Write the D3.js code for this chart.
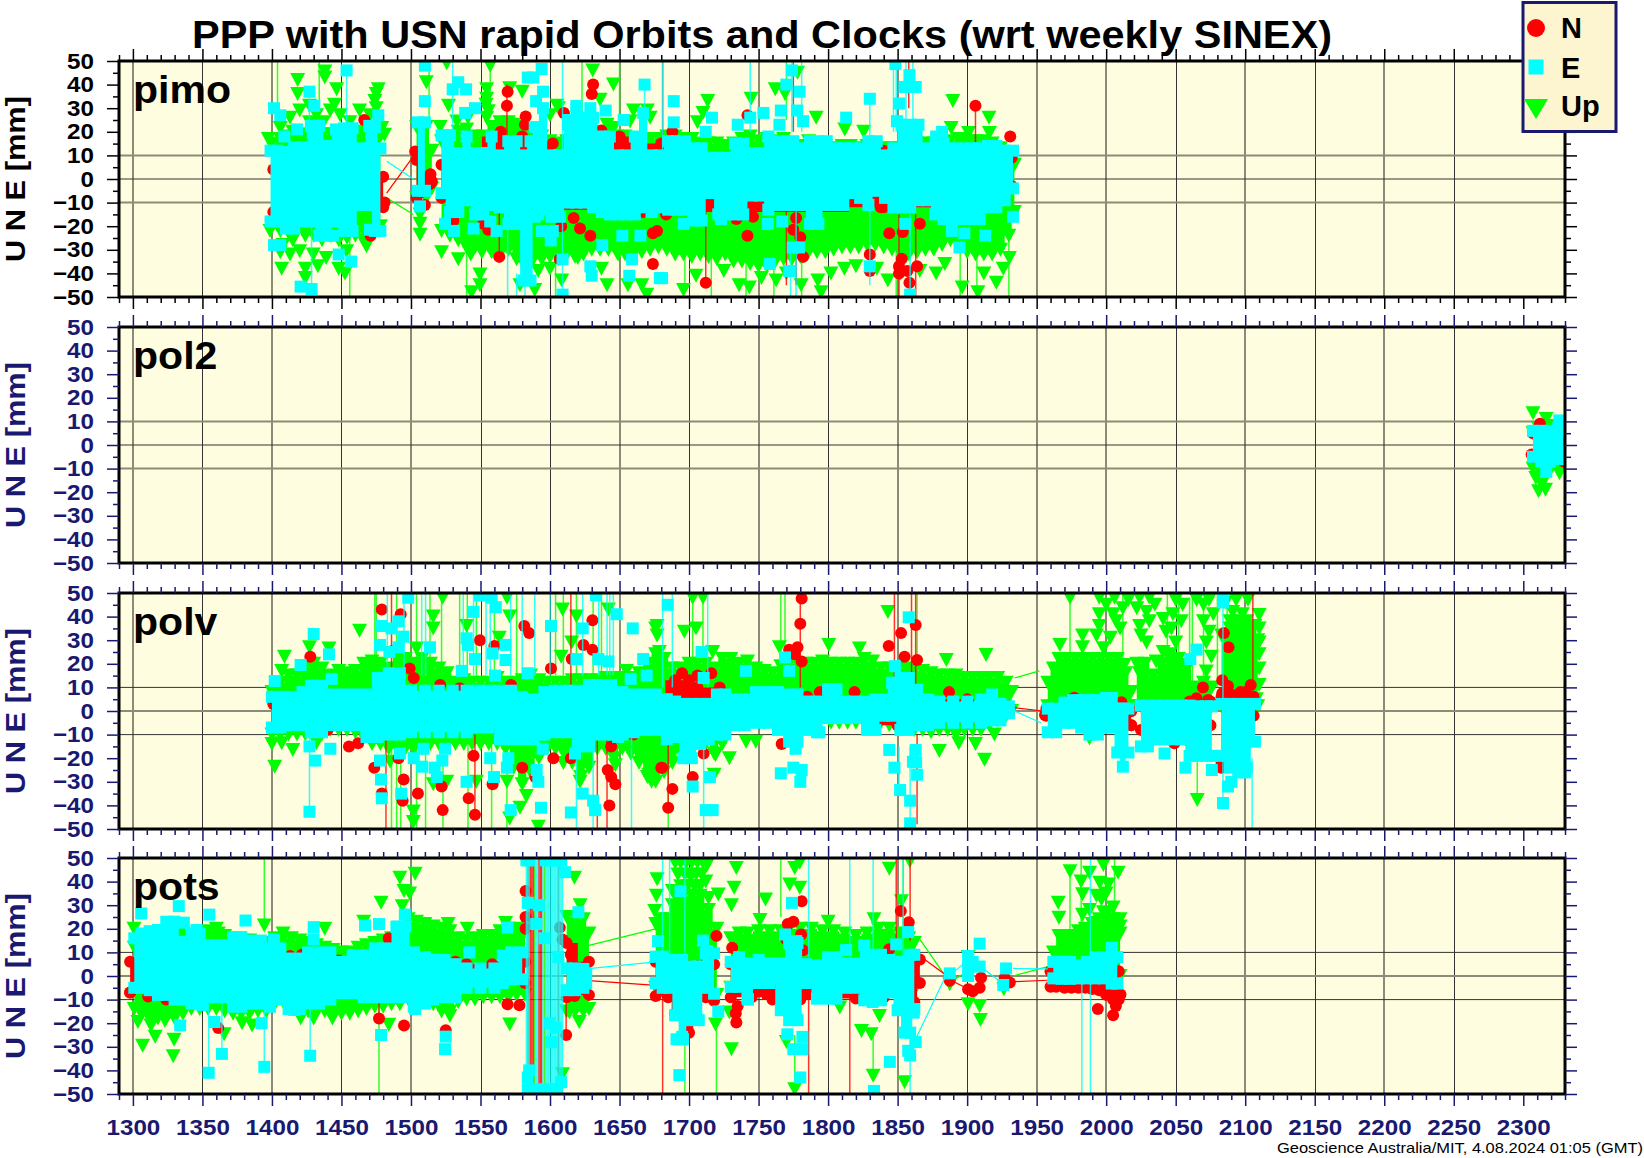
<!DOCTYPE html>
<html><head><meta charset="utf-8">
<script src="https://d3js.org/d3.v7.min.js"></script>
<style>html,body{margin:0;background:#fff}svg{display:block}text{font-family:"Liberation Sans",Arial,sans-serif}</style>
</head><body><svg id="c" width="1644" height="1158"></svg>
<script>
// ---------- labels / ticks ----------
const titleText="PPP with USN rapid Orbits and Clocks (wrt weekly SINEX)";
const footerText="Geoscience Australia/MIT, 4.08.2024 01:05 (GMT)";
const stations=["pimo","pol2","polv","pots"];
const xTickLabels=[1300,1350,1400,1450,1500,1550,1600,1650,1700,1750,1800,1850,1900,1950,2000,2050,2100,2150,2200,2250,2300];
const xGridDays=[1300,1350,1400,1450,1500,1550,1600,1650,1700,1750,1800,1850,1900,1950,2000,2050,2100,2150,2200,2250];
const xGridHeavy=[1300,1400,1500,1650,1750,1850,1950,2000,2100,2200];
const yTickLabels=[50,40,30,20,10,0,-10,-20,-30,-40,-50];
const yGridVals=[10,0,-10];
const yGridHeavy={pimo:[10,-10],pol2:[10,-10],polv:[0],pots:[0]};
const legendNames=["N","E","Up"];

// ---------- pimo ---------- bands are [day, top reading, bottom reading] of the dense cloud
const pimo_U_bands=[
[[1400,15,-20],[1406,17,-22],[1412,18,-23],[1418,18,-22],[1424,19,-24],[1430,18,-24],[1436,19,-26],[1442,19,-24],[1448,18,-26],[1454,19,-25],[1460,17,-24],[1466,17,-22],[1472,18,-22],[1478,18,-20]],
[[1504,22,-8],[1511,22,-8],[1515,12,-4]],
[[1522,16,-22],[1528,18,-24],[1534,20,-26],[1540,21,-29],[1546,18,-29],[1552,18,-28],[1558,22,-31],[1564,22,-32],[1570,24,-30],[1576,22,-34],[1582,19,-37],[1588,18,-34],[1594,18,-34],[1600,16,-33],[1606,15,-34],[1612,16,-32],[1618,18,-33],[1624,20,-32],[1630,20,-30],[1636,19,-30],[1642,20,-30],[1648,18,-31],[1654,18,-32],[1660,17,-32],[1666,17,-31],[1672,17,-30],[1678,17,-29],[1684,18,-30],[1690,18,-32],[1696,17,-32],[1702,17,-33],[1708,15,-32],[1714,15,-33],[1720,15,-34],[1726,14,-32],[1732,15,-35],[1738,17,-35],[1744,18,-36],[1750,16,-37],[1756,17,-37],[1762,16,-35],[1768,17,-34],[1774,15,-34],[1780,14,-33],[1786,16,-31],[1792,15,-31],[1798,14,-31],[1804,13,-30],[1810,14,-29],[1816,14,-29],[1822,13,-29],[1828,14,-28],[1834,13,-28],[1840,13,-29],[1846,13,-30],[1852,13,-31],[1858,14,-32],[1864,15,-31],[1870,15,-30],[1876,15,-30],[1882,15,-28],[1888,16,-26],[1894,17,-28],[1900,16,-31],[1906,16,-32],[1912,16,-32],[1918,15,-32],[1924,13,-30],[1930,11,-24],[1934,6,-14]]];
const pimo_U_pts=[[1418.5,42],[1418.5,36],[1438,45.6],[1438,43],[1446.5,38],[1476.5,38],[1475,36],[1474,33],[1463,29],[1420,29],[1427,31],[1407,-38],[1424,-42],[1424,-38],[1413,-32],[1433,-37],[1452.5,-40],[1448,-38],[1468,-28.5],[1406,-31],[1413,26],[1432,27],[1442,29],[1449,27],[1456,24],[1397.4,17],[1406,21.6],[1415,20],[1427,24],[1437,24],[1445,31.5],[1463,20],[1470.5,27],[1479,21.6],[1475,30],[1481,18.8],[1398.6,-22],[1408,-28],[1420,-30.6],[1429.7,-32],[1439,-33.5],[1453.7,-30.6],[1461,-22],[1465.7,-26],[1475,-20.8],[1415,-26],[1511,41],[1506.5,-15],[1506.5,-23.6],[1506.5,-19],[1557,48],[1525.7,49],[1630.7,46],[1645.6,40],[1636,33.6],[1554.4,38],[1580,37],[1571,38.5],[1527,31],[1554,31.5],[1660,29],[1670,29],[1605,31],[1521,22],[1533,24.4],[1541,26],[1554.4,26],[1564,24],[1573.6,23],[1600,27],[1606,30],[1641,23],[1645.6,21.6],[1657.6,24.4],[1672,26],[1554.4,34],[1555.6,28.7],[1543.6,-48],[1549.6,-45],[1549.6,-40.5],[1551,-31],[1534,-34],[1543,-32],[1522,-31],[1589,-47],[1578.4,-45],[1591.5,-39],[1608.4,-43],[1600,-38],[1641,-45],[1637,-38],[1656,-45],[1666,-45],[1669.6,-49],[1620,-33.5],[1649,-32],[1713.4,33],[1710,28],[1706,24],[1744.6,34],[1762,38],[1769,36],[1778,45],[1791.4,26],[1812,21],[1825.6,20],[1889.7,33],[1888.5,21.6],[1901,19.5],[1915.7,26],[1916,19.5],[1696,-47],[1795,-48],[1896.4,-46],[1907.7,-48],[1921,-44],[1930.4,-33.5],[1877.7,-40],[1843,-43],[1762.6,-43],[1743.4,-46],[1736,-45],[1811.7,-38],[1792.6,-43],[1780.6,-45],[1705,-41],[1725,-39],[1752,-42],[1770,-40],[1802,-40],[1820,-37],[1835,-38],[1852,-40],[1866,-39],[1884,-36],[1912,-40],[1926,-38]];
const pimo_U_bars=[[1404,50,24],[1434,50,28],[1456,-20,-50],[1513,50,25],[1540,-30,-50],[1557,50,30],[1604,-30,-50],[1623,50,25],[1650,50,15],[1697,-30,-48],[1716,-25,-50],[1741,-25,-50],[1761,-25,-50],[1770,50,25],[1781,-25,-50],[1849,-25,-50],[1895,-25,-50],[1907,-25,-50],[1930,-25,-50]];
const pimo_U_links=[[1482.5,-8,1501.7,-15]];
const pimo_N_bands=[[[1401,4,-14],[1440,8,-18],[1480,1,-12]],[[1504,8,-8],[1514,2,-2]],[[1522,6,-8],[1580,18,-13],[1598,12,-13],[1650,18,-13],[1680,15,-12],[1740,11,-14],[1790,12,-14],[1840,12,-12],[1932,9,-3]]];
const pimo_N_pts=[[1466.4,25],[1471,-24],[1412,-17],[1481,-10],[1510,-11],[1503,11.7],[1515,-1],[1569.5,37],[1569,31],[1564.5,20],[1563.5,-33],[1582.5,26.5],[1582,23],[1631,40],[1630,36],[1610,28],[1602,15],[1552,-19],[1555.6,-21.5],[1608,-20],[1617,-16.5],[1621.6,-21],[1629,-24],[1674,-23],[1674,-36],[1607,-34],[1667,-14],[1637,20.5],[1530.5,-17.6],[1683.5,-15],[1677,-22],[1688,20],[1712,-44],[1742,27],[1734,-17],[1746,-16],[1742,-24],[1777,-16.5],[1775,-21.5],[1780,-24.7],[1782,-33],[1830,-32],[1830,-39],[1838,-12],[1844,-23],[1853.7,-22.5],[1853,-33.8],[1851,-37],[1851,-40],[1857,-39],[1858.5,-44],[1864,-37],[1866,-19],[1906,31],[1931,18],[1821,-7],[1901.7,9],[1808,11]];
const pimo_N_bars=[[1569,40,15],[1563.5,-10,-33],[1681,50,15],[1712,-10,-44],[1775,50,20],[1777,-10,-45],[1851,-15,-50],[1858,50,30],[1863,-15,-50],[1906,31,10],[1770,-10,-45]];
const pimo_N_links=[[1482.5,-6,1501.7,9.6]];
const pimo_E_bands=[
[[1399,12,-18],[1404,12,-18],[1410,11.5,-21],[1416,13.5,-21],[1422,13.5,-18],[1428,22.5,-18],[1434,22.5,-24],[1440,14,-24],[1446,21,-18],[1452,21.5,-22],[1458,21.5,-22],[1464,13,-11],[1470,22.5,-11],[1474,22,-22],[1478,13,-22]],
[[1505,24,-5],[1510,24,-5]],
[[1522,18.5,-6],[1528,18.5,-14],[1534,11,-14],[1540,18,-9],[1546,11,-15],[1552,11,-15],[1558,18,-11],[1564,10,-12],[1570,16,-19],[1576,16,-19],[1581,10,-43],[1586,16,-43],[1589,22,-16],[1595,30,-13],[1601,10,-16],[1607,10,-16],[1613,23,-10],[1619,30,-10],[1625,26,-10],[1631,26,-12],[1637,18,-14],[1643,18,-15],[1649,10,-15],[1655,10,-15],[1661,18,-15],[1667,28,-12],[1673,10,-14],[1679,10,-12],[1685,16,-13],[1691,16,-13],[1697,16,-13],[1703,13,-17.6],[1709,13,-17.6],[1715,9,-6],[1721,9,-15],[1727,9,-15],[1733,15,-15],[1739,15,-15],[1745,11,-7],[1751,11,-7],[1757,18,-13],[1763,16,-11],[1769,16,-11],[1775,16,-11],[1781,13,-11],[1787,16,-19],[1793,16,-19],[1799,16,-11],[1805,13,-11],[1811,13,-11],[1817,13,-6],[1823,13,-8],[1829,16,-11],[1835,16,-5],[1841,10,-8],[1847,13,-12],[1853,23,-12],[1859,23,-12],[1865,23,-9],[1871,13,-9],[1877,15,-15],[1883,15,-17],[1889,13,-17],[1897,13,-17],[1904,13,-17],[1909,13,-17],[1915,14,-12],[1921,14,-12],[1927,12,-9],[1933,12,-4]]];
const pimo_E_pts=[[1453.7,46],[1427,37],[1430.5,31],[1401.5,30],[1406,27],[1418,21],[1409,18],[1476.5,27],[1401.5,-28],[1406,-28],[1448,-32],[1457,-35],[1420.6,-45.6],[1428.5,-46.6],[1444,-24],[1437,-20],[1470.5,-21.5],[1510,48],[1510,33],[1506.5,-11.6],[1534,41],[1530,38],[1539.6,38],[1546,30],[1539,28],[1584,43],[1588,43],[1594,46.6],[1595,37],[1590,33],[1668,40],[1640,29],[1653,25],[1613,25],[1619,31],[1629,30],[1524.5,-19],[1531,-22],[1545,-21],[1557,-18],[1561.6,-22],[1591.6,-15],[1594,-22],[1602,-22],[1600.5,-26],[1609,-34],[1609,-49],[1629,-37],[1630,-41],[1637.6,-28],[1652,-24],[1659,-34],[1657,-41],[1665,-24],[1679,-42],[1689,33],[1689,24],[1716.5,26],[1712,20],[1735,23],[1744,26],[1753.5,28],[1766,29],[1765,23],[1770,40],[1774,46],[1779.5,37],[1777.7,29],[1782,24.5],[1813,26],[1830,34],[1848.4,48.7],[1858.5,44],[1863,39],[1855,39],[1851,32],[1849.5,24.5],[1877.7,18],[1882,20],[1696,-19],[1680.6,-42],[1723,-17],[1756.6,-19],[1767,-18],[1758,-36],[1772,-39],[1774.6,-29],[1779,-29],[1830,-37],[1855.6,-19],[1859,-49],[1889,-22],[1898,-23],[1894.5,-29],[1913,-24],[1933,-16]];
const pimo_E_bars=[[1453.7,46,15],[1427,37,15],[1428.5,-15,-47],[1530,50,20],[1569.5,-10,-50],[1609,50,-50],[1576,-40,-50],[1582,-40,-50],[1668,40,20],[1681,50,10],[1744,50,20],[1774,50,20],[1781,50,20],[1773,-30,-50],[1777,-10,-50],[1830,34,-45],[1847,50,20],[1849,50,20],[1856,50,20],[1859,-15,-50],[1861,50,20]];
const pimo_E_links=[[1482.5,7.5,1501.7,0]];

// ---------- pol2 ----------
const pol2_U_bands=[[[2307,5,-10],[2311,7,-14],[2316,7,-13],[2321,6,-9],[2326,6,-9],[2329,3,-5]]];
const pol2_U_pts=[[2307,13.5],[2316.5,11],[2326,-12],[2309,-14],[2314,-16],[2311,-19.6],[2316,-19],[2321,8]];
const pol2_U_bars=[];const pol2_U_links=[];
const pol2_N_bands=[[[2307,5,-5],[2329,5,-7]]];
const pol2_N_pts=[[2312,9],[2329,0],[2306,-4]];
const pol2_N_bars=[];const pol2_N_links=[];
const pol2_E_bands=[[[2307,6,-5],[2313,6,-7],[2319,6,-7],[2325,7,-6],[2329,6,-3]]];
const pol2_E_pts=[[2325.9,10.4],[2316.5,-11.4]];
const pol2_E_bars=[];const pol2_E_links=[];

// ---------- polv ----------
const polv_U_bands=[
[[1400,8,-10],[1406,12,-10],[1412,15,-10],[1418,15,-10],[1424,18,-10],[1430,20,-11],[1436,18,-10],[1442,15,-8],[1448,17,-8],[1454,16,-8],[1460,17,-9],[1466,20,-11],[1472,21,-14],[1478,20,-14],[1484,18,-16],[1490,25,-16],[1496,22,-16],[1502,20,-16],[1508,22,-16],[1514,20,-14],[1520,18,-14],[1526,16,-14],[1532,12,-14],[1538,13,-14],[1544,12,-14],[1550,12,-14],[1556,12,-14],[1562,14,-14],[1568,12,-16],[1574,12,-24],[1580,13,-31],[1586,15,-26],[1592,13,-20],[1598,12,-16],[1604,12,-16],[1610,12,-18],[1616,13,-22],[1622,13,-28],[1628,13,-24],[1634,13,-16],[1640,14,-16],[1646,14,-20],[1652,14,-16],[1658,14,-18],[1664,16,-22],[1670,20,-28],[1676,24,-30],[1682,22,-26],[1688,18,-22],[1694,18,-18],[1700,20,-14],[1706,20,-12],[1712,20,-14],[1718,18,-18],[1724,22,-14],[1730,22,-6],[1736,20,-6],[1742,21,-5],[1748,18,-4],[1754,17,-5],[1760,16,-5],[1766,19,-6],[1772,20,-6],[1778,20,-6],[1784,20,-4],[1790,20,-2],[1796,21,-2],[1802,20,-5],[1808,20,-5],[1814,20,-5],[1820,20,-5],[1826,22,-5],[1832,21,-5],[1838,18,-5],[1844,18,-6],[1850,18,-8],[1856,18,-6],[1862,17,-8],[1868,17,-8],[1874,16,-9],[1880,15,-8],[1886,15,-8],[1892,15,-10],[1898,14,-8],[1904,14,-8],[1910,14,-8],[1916,14,-6],[1922,14,-4],[1928,12,-2],[1932,8,0]],
[[1958,12,2],[1962,18,2],[1966,22,2],[1972,22,2],[1978,22,2],[1984,22,2],[1990,22,2],[1996,22,2],[2002,22,2],[2008,22,2],[2014,16,2],[2018,8,2]],
[[2022,20,2],[2028,20,2],[2034,15,2],[2040,20,2],[2046,22,2],[2052,22,2],[2058,18,2],[2064,10,2],[2070,12,2],[2076,10,2]],
[[2083,32,2],[2089,38,2],[2095,38,2],[2101,38,2],[2107,36,2],[2109,30,2]]];
const polv_U_pts=[[1409,23],[1427,27],[1441,26.5],[1463,34],[1407,17],[1516,40],[1516,35],[1504,26.5],[1522.8,48],[1571,40],[1540,36],[1563.5,31],[1609,43],[1619,40],[1608,23],[1615.6,29],[1642,43],[1655,17],[1677,32],[1677,36],[1569,48],[1402,-23.6],[1400,-14],[1415,-16.5],[1407,-13.7],[1432,-13.7],[1485,-21.5],[1501.7,-42.6],[1501.7,-47],[1525.7,-30],[1516,-31],[1547,-30],[1571,-45.5],[1578.4,-41],[1583,-36],[1591.6,-49],[1569,-30],[1609.6,-22],[1647,-23],[1672,-28.5],[1621.6,-30],[1676,35],[1678.6,25],[1671,-27],[1673,-30],[1702.6,48],[1710,48],[1696.6,33.6],[1705,35],[1717,25],[1729,-20],[1741,-13],[1748,-13],[1719,-18.6],[1718,-27],[1843,42],[1765,27],[1800.5,28],[1822.5,26.5],[1885,21.6],[1913.6,23.7],[1880,-17],[1894,-13.7],[1906,-14],[1912.5,-20.7],[1919.6,-10],[1974,48],[1966.7,28],[1983,32],[1983,27],[2065.5,-37.7],[1988,-11.6],
[1995,48],[2000,45],[2006,48],[2016,47],[1995,41],[2005,41],[2012,43.5],[1995,36],[2007,38],[1993,32],[2010,35],[2003,31],[1998,26.6],[2013,19.5],[2010,11],[2024,48],[2031,48],[2022,43.5],[2029,42],[2035,45],[2024,36],[2031,38],[2025,32],[2029,29],[2024,16],[2041,39],[2043,33.6],[2050,47],[2055,45],[2048,41],[2054,38],[2047,35],[2050,29],[2046,24],[2053,19.5],[2036,21],[2041,25],[2065,47],[2070,45],[2074,47],[2077,41],[2070,38],[2074,33.6],[2072,29],[2072,16.7],[2075.6,23],[2056,11],[2086,46],[2093.5,47],[2102,47],[2110,40.7],[2091,42],[2098,41],[2110,35],[2089,35],[2096,35],[2110,29],[2103,35],[2091,29],[2099,29],[2110,24],[2093.5,23],[2103,24],[2110,18],[2110,11],[2108,5]];
const polv_U_bars=[[1474,50,15],[1475,50,15],[1489.7,50,15],[1504,50,15],[1513.7,50,15],[1522,50,15],[1535,50,15],[1540.5,50,15],[1547,50,15],[1560,50,15],[1576,50,15],[1604,50,15],[1609.6,50,15],[1619,50,15],[1631,50,15],[1637,50,15],[1486,-10,-50],[1489.7,-10,-50],[1492.6,-10,-50],[1504,-10,-50],[1510.5,-10,-50],[1523,-10,-50],[1541,-10,-50],[1558,-10,-50],[1569,-10,-50],[1685,-10,-50],[1702.6,50,20],[1710,50,20],[1766,50,25],[1769,50,25],[1864,50,15],[1974,50,25],[2065.5,10,-38],[2012,50,10],[2060,48,10],[2070,48,10],[2044,50,10],[2052,50,10],[2062,50,10],[2080,50,10],[2087,50,10]];
const polv_U_links=[[1934,14,1952,17]];
const polv_N_bands=[
[[1401,3,-7],[1440,6,-8],[1480,7,-8],[1520,7,-7],[1560,8,-7],[1600,6,-7],[1640,7,-9],[1676,6,-8],[1690,13,-8],[1700,13,-8],[1706,10,-7],[1722,10,-6],[1728,3,-5],[1770,6,-6],[1800,5,-3],[1850,6,-6],[1900,5,-5],[1930,2,-1]],
[[1957,1,-2],[1975,5,0],[2000,5,0],[2011,3,-6],[2018,0,-6]],
[[2025,2,-8],[2060,4,-13],[2075,4,-6]],
[[2083,6,-22],[2090,7,-5],[2100,8,-5],[2106,6,-2]]];
const polv_N_pts=[[1427.6,23],[1479,43],[1492.6,41],[1499,18],[1502,14],[1521,11],[1535,9.6],[1549.6,30],[1560,27.5],[1581.5,36],[1585,33],[1600.7,18],[1615.6,22],[1624,28],[1630.5,38.5],[1630.5,26],[1572,11],[1455.4,-15],[1462,-13.7],[1473.6,-24],[1491,-20],[1494.7,-29],[1479,-35],[1494,-38],[1505,-35],[1522,-32],[1522.8,-42],[1541.5,-37],[1545,-19],[1546,-44],[1558.7,-31],[1580,-24],[1589.4,-28],[1602.4,-20],[1615,-20],[1641.5,-25],[1644,-28],[1647,-31],[1642.7,-40],[1644,-15],[1660,-10],[1680,-24],[1695,16],[1706,15],[1716,16],[1685,-41],[1688,-33],[1680.6,-24],[1702.6,-28],[1710.5,-18],[1766.6,-14],[1781,47.7],[1780,37],[1778,27],[1781,21],[1772,26],[1776,24],[1843.6,27.5],[1852.5,33],[1863,36.4],[1855,23],[1864,21.6],[1785,6],[1794,8],[1819,8],[1887,8],[2084.7,33],[2088,27],[2069.6,10],[2104,11],[2083.5,13],[2087.6,10.6],[2083.5,7.5],[2096.6,8],[2065,5.4],[2073.3,4.7],[2011,3.7],[2018,0],[2018,-6],[2049,-13.7],[2082.8,-24],[1977,5.6],[1956,-1.7]];
const polv_N_bars=[[1486,50,10],[1482,-10,-50],[1615,50,10],[1634,-12,-50],[1641,-12,-50],[1546,-10,-44],[1685,-10,-41],[1780,47.7,10],[1847.7,50,10],[1860,50,10],[1863,50,10],[1864,-10,-48],[2105.5,50,10]];
const polv_N_links=[[1934,1.4,1954.4,0]];
const polv_E_bands=[
[[1400,6,-7],[1406,6,-7],[1414,6,-6],[1422,8,-6],[1428,10.7,-9],[1436,10.7,-9],[1444,7,-6],[1452,7,-6],[1460,7,-6],[1468,7,-11],[1476,14,-11],[1484,16,-10],[1492,16,-10],[1500,8.6,-9],[1510,8.6,-9],[1520,8.6,-9],[1530,8.6,-9],[1540,8.6,-9],[1548,8.6,-7],[1556,8.6,-7],[1564,8.6,-12],[1572,8.6,-12],[1580,6,-12],[1588,5,-12],[1596,8,-10],[1604,8.6,-9],[1612,8.6,-9],[1620,8.6,-15],[1628,11,-15],[1636,11,-10],[1644,11,-10],[1652,8,-10],[1660,7,-9],[1668,7,-8],[1676,7,-8],[1684,5,-12],[1690,4,-11],[1696,3,-20],[1702,3,-20],[1708,3,-14],[1714,3,-12],[1720,7,-10],[1726,7,-10],[1732,5,-6],[1740,5,-6],[1748,8,-5],[1756,8,-5],[1764,8,-8],[1772,7,-13],[1778,7,-13],[1784,4,-8],[1792,4,-9],[1800,9.3,-3],[1806,9.3,-3],[1812,4,-3],[1820,4,-3],[1828,4,-8],[1834,5,-8],[1840,5,-2],[1846,12,-2],[1852,14,-8],[1858,14,-8],[1864,9,-6],[1872,5,-6],[1880,4,-5],[1890,4,-5],[1900,4,-5],[1910,5,-5],[1918,7,-4],[1924,3,-4],[1930,2,-1]],
[[1958,1,-9],[1964,1,-9],[1970,3.6,-5],[1976,4.6,-5],[1982,4.6,-7],[1988,4.6,-10],[1994,4.6,-10],[2000,5.5,-7],[2004,5.5,-7],[2008,1,-17.6],[2012,1,-23.6],[2016,1,-17.6]],
[[2025,2.3,-15],[2030,2.3,-15],[2036,2.3,-12],[2042,2.3,-12],[2048,2.3,-12],[2054,2.3,-12],[2060,2.3,-19],[2066,2,-19],[2072,2,-19],[2076,2,-19]],
[[2083,3,-19],[2089,3,-24],[2095,3,-26],[2101,3,-24],[2107,3,-13]]];
const polv_E_pts=[[1430,32.6],[1441,24],[1420.6,19.5],[1402,12.7],[1443,13.6],[1477.7,28],[1478.7,36],[1486,35],[1491,38],[1494.5,31.5],[1498,48],[1484.5,25],[1491,27],[1513.7,27],[1545,42],[1549.6,49],[1558,48],[1561,44],[1540,30.8],[1541,28],[1546,22],[1536.5,17],[1568,28],[1568,21.6],[1558.7,24.4],[1560.4,15],[1584,16],[1600.7,36],[1623.5,35],[1659.5,35],[1648,41],[1633,49],[1634.8,22],[1642,21],[1619,22],[1667,22],[1669.5,15],[1658,13.6],[1427,-15],[1431,-21],[1427,-42.7],[1442,-16],[1477.7,-21],[1478.4,-29],[1479,-37],[1493,-35],[1492,-18],[1509,-16],[1502,-20],[1524.5,-16],[1522.5,-21],[1508,-23.6],[1517,-24],[1518.5,-28],[1540,-30],[1559.7,-28],[1557,-20],[1570,-20],[1569,-24],[1571.7,-42],[1590.4,-25],[1591.6,-30],[1593.5,-41],[1594.7,-16],[1623.5,-35],[1615,-43],[1631,-38],[1632.4,-42],[1618,-18],[1649,-11],[1684.7,45],[1709,25],[1741,17],[1710.5,14],[1769,22.7],[1772,17],[1858,39.7],[1848,19],[1766,-26.4],[1775,-24],[1781,-25],[1780,-30],[1776.6,-16],[1702.6,-32],[1715,-28],[1712,-42],[1717,-42],[1844,-16.5],[1847.7,-24],[1863,-16.5],[1861,-21.5],[1863.3,-21.7],[1864,-27],[1851.8,-33.5],[1859,-38],[1859,-47.6],[1793.8,-9],[2042,-18],[2057,-24],[2076,-25],[2090,-30],[2087.6,-32],[2100,-26],[2084,-39],[2065,26],[2060.5,22],[2084,46],[2084,49]];
const polv_E_bars=[[1427,-10,-43],[1483,50,15],[1495,50,15],[1507.7,50,15],[1510.5,50,15],[1537.6,50,15],[1545,50,15],[1554,50,15],[1557,50,15],[1571.7,50,15],[1580,50,15],[1589,50,15],[1600,50,15],[1623.5,50,15],[1635,50,15],[1641,50,15],[1643,50,15],[1645.5,50,15],[1619,-15,-50],[1631,-15,-50],[1658.6,-10,-50],[1681,50,10],[1688,50,10],[1713.4,50,10],[1710.5,-10,-50],[1851,-15,-34],[1859,-15,-48],[2084,49,-39],[2105,-20,-50]];
const polv_E_links=[[1934,0,1953,-5]];

// ---------- pots ----------
const pots_U_bands=[
[[1301,12,-14],[1306,11,-16],[1312,10,-18],[1318,14,-18],[1324,17,-18],[1330,20,-18],[1336,18,-16],[1342,17,-14],[1348,18,-14],[1354,19,-14],[1360,20,-14],[1366,17,-15],[1372,16,-16],[1378,15,-16],[1384,15,-16],[1390,14,-15],[1396,14,-15],[1402,16,-12],[1408,18,-11],[1414,16,-13],[1420,15,-14],[1426,14,-15],[1432,13,-15],[1438,12,-15],[1444,11,-16],[1450,10,-16],[1456,10,-16],[1462,12,-15],[1468,13,-14],[1474,14,-13],[1480,15,-13],[1486,16,-12],[1492,17,-12],[1498,24,-10],[1504,23,-10],[1510,22,-10],[1516,21,-12],[1522,20,-15],[1528,19,-15],[1534,16,-11],[1540,15,-10],[1546,16,-10],[1552,17,-9],[1558,17,-9],[1564,19,-9],[1570,20,-9],[1576,20,-8],[1582,19,-8]],
[[1612,25,-15],[1618,25,-15],[1624,24,-15],[1628,18,-14]],
[[1676,22,-5],[1680,24,-5],[1684,24,-6],[1688,30,-6],[1692,32,-8],[1696,34,-8],[1702,34,-8],[1708,34,-8],[1714,28,-8],[1720,20,-8]],
[[1730,16,-5],[1736,18,-5],[1742,18,-5],[1750,19,-5],[1758,19,-5],[1766,19,-6],[1772,20,-6],[1780,20,-6],[1788,20,-6],[1796,19,-6],[1804,19,-6],[1812,18,-6],[1820,17,-6],[1828,18,-6],[1836,20,-6],[1844,20,-6],[1852,18,-6],[1858,16,-6],[1862,14,-6]],
[[1962,10,0],[1966,17,0],[1970,17,0],[1975,17,0],[1980,19,0],[1985,20,0],[1990,22,0],[1995,24,0],[2000,26,0],[2005,24,0],[2010,18,0]]];
const pots_U_pts=[[1394.5,21.4],[1300.8,20],[1361.4,18],[1350,18],[1438,20],[1307,-29.6],[1329,-34],[1329.6,-27],[1316,-25.7],[1303.6,-19.5],[1313,-21],[1323,-19],[1365.6,-24.7],[1378.5,-20],[1385.7,-21],[1420.7,-18],[1430,-18],[1443.5,-18],[1484,-20.7],[1478.5,31],[1492,41.6],[1503,43.3],[1495,36],[1499,35],[1493.7,29.6],[1466,23],[1526.7,22],[1540.5,20],[1568,22.5],[1617.6,41.6],[1621.7,30],[1621,-19.5],[1614,-15.5],[1609,-41.6],[1528,-17],[1571,-20.5],[1677,41],[1676.5,34],[1675.3,27.5],[1690,48],[1694,48],[1698,48],[1702,48],[1706,48],[1710,48],[1713,47],[1692,43],[1697,43],[1701,42],[1705,43],[1709,43],[1694,38],[1699,38],[1704,38],[1708,38],[1712,40],[1688,36],[1714,33],[1734,45.8],[1732.4,37.4],[1721,34.5],[1730.5,30],[1755,32.4],[1751,23.7],[1776,45.8],[1779.6,48],[1772.4,38.8],[1779.6,37.4],[1800,23],[1844,45.4],[1833,24],[1852.8,31.7],[1858.8,48.6],[1719,-20.5],[1730.5,-31],[1729,-15.5],[1808.4,-13.4],[1824,-23.3],[1831,-24.7],[1837,-17],[1832.4,-42.3],[1855,-45],[1776,-48],[1770,-28],[1900.7,-12],[1909,-12.7],[1909.6,-18.6],[1887.5,-3.5],[1900.7,8],[1926.4,-5.6],[1974,44.4],[1965.5,31],[1966,24.7],[1982,40],[1983,34.6],[1983,26],[1988,43.7],[1998,47],[2001.5,38.8],[2008.6,43.7],[1996.6,32.4],[2007.4,21],[2010,21],[1995.4,39.5],[2000,35],[2005,29],[1993,34],[1998,27],[2010,24],[1988,28],[1993,22.6]];
const pots_U_bars=[[1394.5,50,21],[1477,-10,-50],[1584,50,-50],[1589,50,-50],[1596,50,-50],[1697,-25,-50],[1719.7,-15,-50],[1766,50,25],[1854,50,20],[1776,-25,-50],[1832.4,-25,-42],[1974,44,15],[1982,50,15],[2006,50,20]];
const pots_U_links=[[1628,13,1676,20],[1866,15.5,1884,0.3],[1889,-2,1898,1],[1933,0,1958,4]];
const pots_N_bands=[
[[1298,6,-7],[1330,9,-9],[1360,9,-8],[1400,8,-10],[1430,9,-7],[1470,5,-6],[1500,8,-6],[1540,5,-4],[1582,6,-3]],
[[1612,14,-9],[1628,6,-8]],
[[1676,6,-8.5],[1685,5,-9],[1690,4,-16],[1700,4,-24],[1706,4,-9],[1712,5,-9],[1718,5,-10.5]],
[[1730,5,-9],[1745,5,-9],[1760,5,-10],[1780,5,-10],[1800,5,-9],[1820,5,-9.5],[1840,5,-9],[1862,5,-11],[1866,7,-3]],
[[1960,2,-4.6],[1964,2,-4.6],[1970,2,-5],[1975,2,-5],[1980,2,-5],[1985,2,-5],[1990,2,-5.5],[1995,2,-6],[2000,2,-8],[2005,2,-10],[2009,2,-10]]];
const pots_N_pts=[[1311,-8.7],[1361.4,-22],[1394.5,-9.6],[1421.5,9],[1413,8.5],[1484,16],[1485,13.7],[1477,-18],[1495,-21],[1525,-23],[1532,6],[1558.4,5],[1566.7,9],[1569.4,-12],[1578,-12.4],[1582.4,36],[1582.4,25],[1582.4,20],[1615,9],[1611.6,-25],[1607,20.5],[1609,15.5],[1617.6,-8.5],[1298,-7],[1324,-10],[1368,-8],[1719.7,17],[1731,12],[1735,-12.7],[1733.6,-15.8],[1734,-19.7],[1781,31.7],[1775,23],[1771,22],[1780.6,17.6],[1782,10.9],[1770,15.5],[1852.3,27.5],[1858,22.8],[1843.9,11.3],[1887.5,-2],[1900.7,-5.6],[1909,-5],[1910,-0.7],[1904,-6.5],[1927,-0.7],[1930.7,-2.8],[1994,-14],[2005,-16.6],[2007,-12.7],[2010.3,-7.8]];
const pots_N_bars=[[1585,50,-50],[1586,50,-50],[1587,50,-50],[1588,50,-50],[1592,50,-50],[1593,50,-50],[1594,50,-50],[1606,50,-50],[1611.6,-5,-25],[1477,-5,-18],[1681,-8,-50],[1786,-8,-50],[1815.6,-8,-50],[1849,50,15],[1859,50,15]];
const pots_N_links=[[1628,-2,1676,-4],[1866,8.5,1885,0.3],[1889,-2,1899,-5],[1933,-2.4,1958,-1.8]];
const pots_E_bands=[
[[1301,16,-5],[1306,18,-5],[1312,19,-6],[1318,19.5,-8],[1324,23,-8],[1330,23,-10],[1336,14.5,-10],[1342,18,-11.7],[1348,18,-11.7],[1354,13,-9],[1360,13,-9],[1366,13,-9],[1372,16.5,-13],[1378,16.5,-13],[1384,15,-11.7],[1392,15,-11.7],[1398,11.7,-10],[1406,11.7,-10],[1412,7.4,-14],[1420,7.4,-14],[1426,10,-11.7],[1434,10,-11.7],[1442,10,-10],[1450,6,-7.3],[1458,8.8,-7.3],[1466,8.8,-9],[1474,11.7,-9],[1482,11.7,-9],[1490,21,-9],[1496,21,-9],[1502,10,-13],[1510,8,-11.7],[1516,7,-10],[1524,6.8,-9],[1532,5,-9],[1540,3.2,-5],[1550,3.2,-5],[1560,3.2,-5],[1566,8.8,-3],[1572,10,-1.4],[1580,10,-1.4]],
[[1612,3.2,-6],[1618,3.2,-6],[1624,3,-5],[1626,1,-3]],
[[1676,8.2,-3],[1681,8.2,-5],[1686,6.8,-5],[1690,6.8,-16.6],[1695,6.8,-25.8],[1701,4,-18.7],[1707,4,-18.7],[1712,9.6,-5],[1718,9.6,-7.5]],
[[1730,6,-4.6],[1736,8,-4.6],[1742,5.4,-9.6],[1750,6.8,-3],[1758,5.4,-3],[1766,5.4,-14.5],[1772,14,-18.7],[1778,14,-18.7],[1784,5,-3],[1792,4.5,-9.6],[1800,8,-9.6],[1806,8,-9.6],[1812,5.4,-5],[1820,5.4,-5],[1826,13,-10.3],[1832,9,-10.3],[1838,9,-10.3],[1844,6.8,-7],[1850,6,-14.5],[1855,6,-24],[1859,9,-24],[1862,9,-14]],
[[1962,6,-1],[1968,6,-1.2],[1974,6,-1.2],[1980,4.5,-1],[1986,6,-1],[1992,8,-1],[1998,8,-1],[2004,12,-3.2],[2008,8,-3.2]]];
const pots_E_pts=[[1306,26.5],[1333,29.6],[1355,26],[1381,23.5],[1430,20.7],[1430,15.5],[1467,21.4],[1477,22],[1489.5,20.7],[1495.6,26],[1542,10],[1569.4,20.5],[1620.4,27],[1610.7,44],[1336.6,22.6],[1345.7,19.5],[1401.4,15.5],[1334,-20.9],[1350,-12.3],[1358.7,-19.5],[1354.5,-41],[1364,-33],[1392.6,-20],[1394.5,-38.5],[1427.5,-33.8],[1478.5,-25],[1525,-25.7],[1524.5,-31],[1416,-14.4],[1398.6,-13],[1503,-14],[1583,49],[1585,49],[1597,49],[1600,49],[1603,49],[1606,49],[1608,49],[1584,31],[1584,-43],[1585,-40],[1590,22],[1592,30],[1596,16],[1600,-20],[1601,-28],[1604,-22],[1606,8],[1584,-48],[1590,-48],[1598,-48],[1601,-48],[1605,-48],[1608,-45],[1693.8,36],[1677.7,14.8],[1710,15],[1713,10.5],[1774,31],[1769,17.6],[1777,14.8],[1777,10.6],[1813,11],[1849,13.4],[1857.6,18.6],[1721,-15],[1693,-42],[1695.7,-26.8],[1691,-26.8],[1742.4,-10],[1770.7,-24.7],[1781.5,-25.8],[1775,-31],[1781.5,-31],[1780,-43],[1833,-48.7],[1844.4,-36.4],[1857.6,-31.7],[1859,-33.6],[1863,-28],[1861.6,-15.5],[1832,-11],[1887.5,1.1],[1900.7,8.5],[1900.7,4],[1900.7,0],[1904,6],[1909,13.7],[1909,4],[1928,3.2],[1926,-3.8]];
const pots_E_bars=[[1583,50,-50],[1584,50,-50],[1585,50,-50],[1590,50,-50],[1591,50,-50],[1595,50,-50],[1597,50,-50],[1598,50,-50],[1599,50,-50],[1600,50,-50],[1601,50,-50],[1602,50,-50],[1603,50,-50],[1604,50,-50],[1605,50,-50],[1606,50,-50],[1607,50,-50],[1608,50,-50],[1609,50,-50],[1354.5,-5,-41],[1364,-5,-33],[1394.5,-5,-38],[1427.5,-5,-33],[1681,50,8],[1686,50,8],[1697,50,8],[1786,50,8],[1815.6,50,8],[1832.4,50,8],[1854,50,8],[1859,-25,-50],[1982.5,0,-50],[1988.7,50,-50]];
const pots_E_links=[[1626,3,1676,6],[1863.6,-26,1884,-0.7],[1889,1,1899,6],[1912,3,1925,-3],[1933,3.2,1958,3]];

// ---------- assembly ----------
const seriesData={
 pimo:{U:[pimo_U_bands,pimo_U_pts,pimo_U_bars,pimo_U_links],N:[pimo_N_bands,pimo_N_pts,pimo_N_bars,pimo_N_links],E:[pimo_E_bands,pimo_E_pts,pimo_E_bars,pimo_E_links]},
 pol2:{U:[pol2_U_bands,pol2_U_pts,pol2_U_bars,pol2_U_links],N:[pol2_N_bands,pol2_N_pts,pol2_N_bars,pol2_N_links],E:[pol2_E_bands,pol2_E_pts,pol2_E_bars,pol2_E_links]},
 polv:{U:[polv_U_bands,polv_U_pts,polv_U_bars,polv_U_links],N:[polv_N_bands,polv_N_pts,polv_N_bars,polv_N_links],E:[polv_E_bands,polv_E_pts,polv_E_bars,polv_E_links]},
 pots:{U:[pots_U_bands,pots_U_pts,pots_U_bars,pots_U_links],N:[pots_N_bands,pots_N_pts,pots_N_bars,pots_N_links],E:[pots_E_bands,pots_E_pts,pots_E_bars,pots_E_links]}
};
const COL={U:"#00ff00",N:"#ff0000",E:"#00ffff"},NAVY="#191970",PANEL="#fffde0",GH="#8b8b78",GD="#333333";
const panelTop={pimo:61,pol2:327,polv:593,pots:858},PH=236,L=119,R=1565;
const svg=d3.select("#c");
const x=d3.scaleLinear().domain([1290,2330]).range([L,R]);
const TRI=d3.line()([[-7.5,-7],[7.5,-7],[0,7]])+"Z";
function stretch(sel,k){sel.each(function(){const w=this.getComputedTextLength();d3.select(this).attr("textLength",w*k).attr("lengthAdjust","spacingAndGlyphs")})}
function marker(g,data,s,xs,ys){
 if(s==="N")g.selectAll(null).data(data).join("circle").attr("cx",d=>xs(d[0])).attr("cy",d=>ys(d[1])).attr("r",6).attr("fill",COL.N);
 else if(s==="E")g.selectAll(null).data(data).join("rect").attr("x",d=>xs(d[0])-6).attr("y",d=>ys(d[1])-6).attr("width",12).attr("height",12).attr("fill",COL.E);
 else g.selectAll(null).data(data).join("path").attr("d",TRI).attr("transform",d=>`translate(${xs(d[0])},${ys(d[1])})`).attr("fill",COL.U);
}
stations.forEach((st,i)=>{
 const T=panelTop[st],ink=st==="pimo"?"#000":NAVY;
 const y=d3.scaleLinear().domain([-50,50]).range([T+PH,T]);
 const g=svg.append("g");
 g.append("rect").attr("x",L).attr("y",T).attr("width",R-L).attr("height",PH).attr("fill",PANEL);
 // grid
 g.selectAll(null).data(xGridDays).join("line").attr("x1",d=>Math.round(x(d))+(xGridHeavy.includes(d)?0:.5)).attr("x2",d=>Math.round(x(d))+(xGridHeavy.includes(d)?0:.5)).attr("y1",T).attr("y2",T+PH)
  .attr("stroke",d=>xGridHeavy.includes(d)?GH:GD).attr("stroke-width",d=>xGridHeavy.includes(d)?2:1);
 g.selectAll(null).data(yGridVals).join("line").attr("x1",L).attr("x2",R).attr("y1",d=>y(d)).attr("y2",d=>y(d))
  .attr("stroke",d=>yGridHeavy[st].includes(d)?GH:GD).attr("stroke-width",d=>yGridHeavy[st].includes(d)?2:1);
 // data
 const clipId="clip-"+st;
 svg.append("clipPath").attr("id",clipId).append("rect").attr("x",L).attr("y",T).attr("width",R-L).attr("height",PH);
 const dg=g.append("g").attr("clip-path",`url(#${clipId})`);
 ["U","N","E"].forEach(s=>{
  const [bands,pts,bars,links]=seriesData[st][s],c=COL[s];
  const sg=dg.append("g");
  sg.selectAll(null).data(links).join("line").attr("x1",d=>x(d[0])).attr("y1",d=>y(d[1])).attr("x2",d=>x(d[2])).attr("y2",d=>y(d[3])).attr("stroke",c).attr("stroke-width",1.2);
  sg.selectAll(null).data(bars).join("line").attr("x1",d=>x(d[0])).attr("x2",d=>x(d[0])).attr("y1",d=>y(d[1])).attr("y2",d=>y(d[2])).attr("stroke",c).attr("stroke-width",1.5).attr("stroke-opacity",.8);
  const area=d3.area().x(d=>x(d[0])).y0(d=>y(d[2])).y1(d=>y(d[1])).curve(d3.curveStep);
  sg.selectAll(null).data(bands).join("path").attr("d",area).attr("fill",c);
  bands.forEach(b=>{marker(sg,b.map(r=>[r[0],r[1]]),s,x,y);marker(sg,b.map(r=>[r[0],r[2]]),s,x,y);});
  marker(sg,pts,s,x,y);
 });
 // frame
 g.append("rect").attr("x",L).attr("y",T).attr("width",R-L).attr("height",PH).attr("fill","none").attr("stroke","#000").attr("stroke-width",3);
 // axes
 const major=(a)=>a.tickValues(xTickLabels).tickSize(12).tickFormat(()=>"");
 const xMinor=d3.range(1290,2331,10).filter(d=>!xTickLabels.includes(d));
 const yMinor=d3.range(-45,50,10);
 const axB=g.append("g").attr("transform",`translate(0,${T+PH})`).call(d3.axisBottom(x).tickValues(xTickLabels).tickSize(12).tickSizeOuter(0).tickFormat(d=>st==="pots"?d:""));
 g.append("g").attr("transform",`translate(0,${T+PH})`).call(d3.axisBottom(x).tickValues(xMinor).tickSize(6).tickSizeOuter(0).tickFormat(""));
 g.append("g").attr("transform",`translate(0,${T})`).call(major(d3.axisTop(x)).tickSizeOuter(0));
 g.append("g").attr("transform",`translate(0,${T})`).call(d3.axisTop(x).tickValues(xMinor).tickSize(6).tickSizeOuter(0).tickFormat(""));
 const axL=g.append("g").attr("transform",`translate(${L},0)`).call(d3.axisLeft(y).tickValues(yTickLabels).tickSize(12).tickSizeOuter(0).tickPadding(13).tickFormat(d=>d<0?"\u2212"+(-d):d));
 g.append("g").attr("transform",`translate(${L},0)`).call(d3.axisLeft(y).tickValues(yMinor).tickSize(6).tickSizeOuter(0).tickFormat(""));
 g.append("g").attr("transform",`translate(${R},0)`).call(d3.axisRight(y).tickValues(yTickLabels).tickSize(12).tickSizeOuter(0).tickFormat(""));
 g.append("g").attr("transform",`translate(${R},0)`).call(d3.axisRight(y).tickValues(yMinor).tickSize(6).tickSizeOuter(0).tickFormat(""));
 g.selectAll(".domain").remove();
 g.selectAll(".tick line").attr("stroke",ink).attr("stroke-width",1.5);
 axL.selectAll("text").attr("fill",ink).attr("font-size",22).attr("font-weight","bold").attr("font-family","Liberation Sans").call(stretch,1.1);
 if(st==="pots")axB.selectAll("text").attr("fill",NAVY).attr("font-size",22).attr("font-weight","bold").attr("font-family","Liberation Sans").attr("y",41).attr("dy",0).call(stretch,1.1);
 // labels
 g.append("text").attr("x",133).attr("y",T+42).attr("font-size",38).attr("font-weight","bold").attr("fill","#000").text(st).call(stretch,1.08);
 g.append("text").attr("transform",`translate(25,${T+PH/2}) rotate(-90)`).attr("text-anchor","middle").attr("font-size",27.5).attr("font-weight","bold").attr("fill",ink).attr("textLength",166).attr("lengthAdjust","spacingAndGlyphs").text("U N E [mm]");
});
svg.append("text").attr("x",762).attr("y",48).attr("text-anchor","middle").attr("font-size",39).attr("font-weight","bold").attr("fill","#000").text(titleText).attr("textLength",1140).attr("lengthAdjust","spacingAndGlyphs");
svg.append("text").attr("x",1643).attr("y",1153).attr("text-anchor","end").attr("font-size",15).attr("fill","#000").text(footerText).attr("textLength",366).attr("lengthAdjust","spacingAndGlyphs");
// legend
const lg=svg.append("g");
lg.append("rect").attr("x",1523).attr("y",2.5).attr("width",93).attr("height",129).attr("fill","#fdf5d0").attr("stroke",NAVY).attr("stroke-width",3);
const legY=[28,67,109],legB=[38,78,116],legS=["N","E","U"];
legS.forEach((s,k)=>{
 const m=lg.append("g");
 if(s==="N")m.append("circle").attr("cx",1536).attr("cy",legY[k]).attr("r",9).attr("fill",COL.N);
 if(s==="E")m.append("rect").attr("x",1528.5).attr("y",legY[k]-7.5).attr("width",15).attr("height",15).attr("fill",COL.E);
 if(s==="U")m.append("path").attr("d",d3.line()([[1524,legY[k]-10],[1548,legY[k]-10],[1536,legY[k]+10]])+"Z").attr("fill",COL.U);
 lg.append("text").attr("x",1561).attr("y",legB[k]).attr("font-size",29).attr("font-weight","bold").attr("fill","#000").text(legendNames[k]);
});
</script></body></html>
